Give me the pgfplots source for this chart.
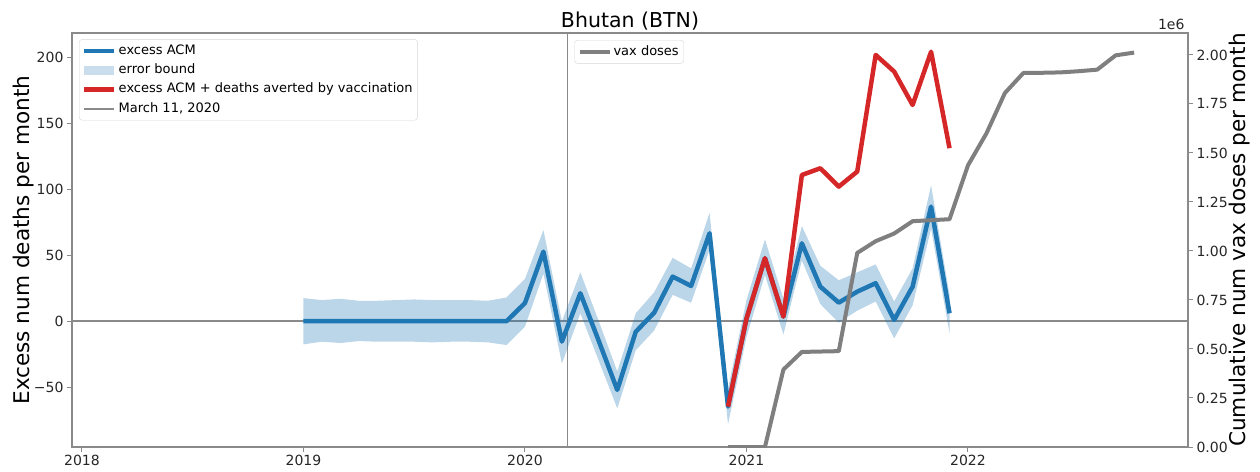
\documentclass[border=0pt]{standalone}
\usepackage{fontspec}
\setmainfont{DejaVu Sans}
\usepackage{pgfplots}
\usepackage{pgfplotstable}
\pgfplotsset{compat=1.18}

\definecolor{tabblue}{HTML}{1F77B4}
\definecolor{tabred}{HTML}{D62728}
\definecolor{tabgray}{HTML}{7F7F7F}
\definecolor{spine}{HTML}{8A8A8A}
\definecolor{legframe}{HTML}{D6D6D6}
\definecolor{bandblue}{HTML}{BCD6E8}

% month index: 0 = Jan 2018
\pgfplotstableread{
m v
12 0
13 0
14 0
15 0
16 0
17 0
18 0
19 0
20 0
21 0
22 0
23 0
24 13.8
25 52.7
26 -15.4
27 21.2
28 -15
29 -52
30 -8
31 6.5
32 33.8
33 26.7
34 66.6
35 -64.6
36 2
37 47.7
38 3.5
39 59
40 26.2
41 14.1
42 22.4
43 28.8
44 1
45 26.2
46 86.8
47 6
}\excess

% error bound: upper edge forward, lower edge backward
\pgfplotstableread{
m b
12 17.5
13 16
14 17
15 15.5
16 15.5
17 16
18 16.5
19 16
20 16
21 16
22 15.5
23 18
24 32
25 69
26 0
27 37
28 0
29 -38
30 6
31 22
32 48
33 40
34 82
35 -51
36 16
37 62
38 17
39 72
40 42
41 31
42 37
43 43
44 15
45 40
46 103
47 20
47 -9
46 70
45 12
44 -13
43 15
42 8
41 -1
40 13
39 46
38 -10
37 35
36 -12
35 -78
34 54
33 14
32 20
31 -7
30 -22
29 -66
28 -30
27 6
26 -32
25 36
24 -4
23 -18
22 -16
21 -15.5
20 -15.5
19 -16
18 -15.5
17 -15.5
16 -15.5
15 -15
14 -16.5
13 -15.5
12 -17.5
}\band

\pgfplotstableread{
m v
35 -64.6
36 2
37 47.7
38 3.5
39 110.7
40 115.8
41 101.9
42 113.3
43 201.6
44 189
45 163.7
46 204
47 131
}\averted

\pgfplotstableread{
m d
35 0
36 0
37 0
38 0.395
39 0.485
40 0.487
41 0.489
42 0.99
43 1.05
44 1.089
45 1.152
46 1.157
47 1.162
48 1.437
49 1.60
50 1.806
51 1.908
52 1.909
53 1.911
54 1.917
55 1.925
56 1.998
57 2.012
}\vax

\pgfplotsset{
  common/.style={
    at={(0pt,0pt)}, anchor=south west, scale only axis,
    width=1116pt, height=414pt,
    xmin=-0.54, xmax=59.92,
    tick align=outside, major tick length=5pt,
    tick style={spine, line width=1pt},
    axis line style={spine, line width=1.2pt},
    tick label style={font=\fontsize{14}{16}\selectfont, text=black!85},
    /pgf/number format/assume math mode=true,
    legend style={
      font=\fontsize{13}{15}\selectfont,
      draw=legframe, rounded corners=3pt, fill=white, fill opacity=0.8,
      text opacity=1, legend cell align=left, anchor=north west,
      row sep=0pt, inner xsep=3pt, inner ysep=2pt,
      nodes={inner ysep=3.6pt, text height=9.4pt, text depth=2.6pt}
    },
    legend image code/.code={\draw[##1] (0pt,0pt) -- (30pt,0pt);},
  },
}

\begin{document}
\begin{tikzpicture}
\path (-72pt,-24pt) rectangle (1188pt,447pt);
\begin{axis}[
  common,
  ymin=-95.2, ymax=218.2,
  xtick={0,12,24,36,48}, xticklabels={2018,2019,2020,2021,2022},
  ytick={-50,0,50,100,150,200}, yticklabels={−50,0,50,100,150,200},
  xtick pos=bottom, ytick pos=left,
  legend style={at={(0.0063,0.985)}},
]
\addlegendimage{tabblue, line width=4.5pt}
\addlegendentry{excess ACM}
\addlegendimage{draw=none, legend image code/.code={%
  \path[fill=bandblue, draw=none, sharp corners] (0pt,-4.5pt) rectangle (30pt,4.5pt);}}
\addlegendentry{error bound}
\addlegendimage{tabred, line width=4.5pt}
\addlegendentry{excess ACM + deaths averted by vaccination}
\addlegendimage{spine, line width=1.8pt}
\addlegendentry{March 11, 2020}

\addplot[forget plot, spine, line width=1.8pt] coordinates {(-0.54,0) (59.92,0)};
\addplot[forget plot, spine, line width=1.8pt] coordinates {(26.3,-95.2) (26.3,218.2)};

\addplot[forget plot, draw=none, fill=tabblue, fill opacity=0.3] table[x=m, y=b] {\band} -- cycle;

\addplot[forget plot, tabblue, line width=4.5pt, line join=round] table[x=m, y=v] {\excess};
\addplot[forget plot, tabred, line width=4.5pt, line join=round] table[x=m, y=v] {\averted};
\end{axis}

\begin{axis}[
  common,
  ymin=0, ymax=2.112,
  axis x line=none, axis y line*=right,
  ytick={0,0.25,...,2},
  yticklabel style={/pgf/number format/.cd, fixed, fixed zerofill, precision=2},
  legend style={at={(0.4501,0.983)}},
]
\addplot[tabgray, line width=4pt, line join=round] table[x=m, y=d] {\vax};
\addlegendentry{vax doses}
\end{axis}

\node[anchor=base, font=\fontsize{20.5}{23}\selectfont] at (558pt,419pt) {Bhutan (BTN)};
\node[anchor=base east, font=\fontsize{14}{16}\selectfont, text=black!85] at (1116pt,417pt) {1e6};
\node[anchor=base, rotate=90, font=\fontsize{21.6}{24}\selectfont] at (-42pt,207pt) {Excess num deaths per month};
\node[anchor=base, rotate=90, font=\fontsize{21.6}{24}\selectfont] at (1173pt,207pt) {Cumulative num vax doses per month};
\end{tikzpicture}
\end{document}
